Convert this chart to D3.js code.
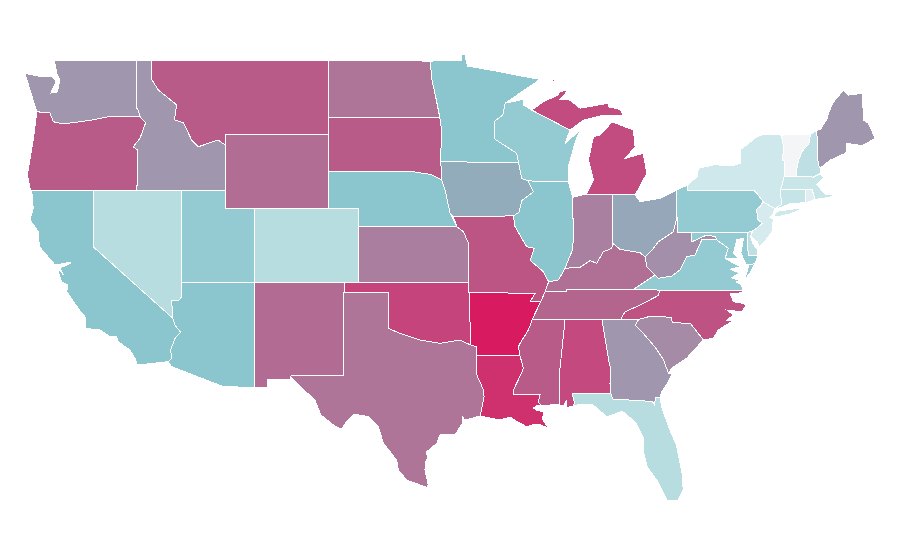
<!DOCTYPE html>
<html>
<head>
<meta charset="utf-8">
<title>States</title>
<script src="https://cdn.jsdelivr.net/npm/d3@7"></script>
<style>
html, body { margin: 0; background: #fff; }
svg { display: block; }
.state { stroke: #fff; stroke-width: 1; shape-rendering: crispEdges; }
</style>
</head>
<body>
<div id="map"></div>
<script>
const states = ["AL","AZ","AR","CA","CO","CT","DE","FL","GA","ID","IL","IN","IA","KS","KY","LA","ME","MD","MA","MI","MN","MS","MO","MT","NE","NV","NH","NJ","NM","NY","NC","ND","OH","OK","OR","PA","RI","SC","SD","TN","TX","UT","VT","VA","WA","WV","WI","WY"]
const stateValues = [88,35,100,35,25,19,22,25,55,55,35,65,44,66,72,95,55,33,18,87,35,80,83,80,35,25,22,12,74,15,84,70,46,90,80,33,8,60,80,76,70,33,0,33,55,58,33,73]

const colorStops = [0,15,25,35,45,55,70,80,90,100]
const colorRange = ["#f4f5f6","#cfe8ec","#b7dde0","#8bc6ce","#94a9b9","#a096ad","#ae7598","#b85b88","#c6447c","#d81b60"]

// state outlines, "degrees west, degrees north"; a | starts another part of the same state
const outlines = {
AL: "88.2 35 85.6 35 85.15 32.85 85 32.3 85.05 31.55 85 31 87.6 31 87.45 30.5 87.55 30.3 88 30.25 88 30.65 88.15 30.35 88.49 30.38 88.49 31.9 88.1 34.9",
AZ: "114.04 37 109.05 37 109.05 31.33 111.19 31.37 114.68 32.45 114.91 32.72 114.68 32.9 114.75 33.35 114.46 33.98 114.07 34.3 114.46 34.7 114.61 35.07 114.68 36.05 114.2 36.05 114 36.23",
AR: "94.58 36.45 90.11 36.42 90.46 35.96 89.73 35.96 90.17 35.24 90.3 35 90.57 34.43 91.13 33.71 91.24 33.53 91.13 33.03 94.05 33.03 94.05 33.53 94.46 33.62",
CA: "124.14 41.95 120 42 120 38.94 114.61 35.07 114.46 34.7 114.07 34.3 114.46 33.98 114.75 33.35 114.68 32.9 114.91 32.72 117 32.54 117.16 32.9 117.5 33.35 118.29 33.8 118.4 34.06 118.85 34.07 119.53 34.43 120.54 34.52 120.54 35.15 120.76 35.33 121.78 36.5 121.71 36.86 122.12 37.04 122.41 37.76 122 37.42 122.24 37.78 121.55 38.02 121.55 38.1 122.42 37.95 122.57 37.95 123.63 38.94 123.7 39.75 124.26 40.38 124.04 41",
CO: "109.05 41 102.05 41 102.05 37 109.05 37",
CT: "73.73 41.1 73.48 41.2 73.5 42.05 71.8 42.02 71.85 41.32 72.9 41.25 73.7 41",
DE: "75.79 39.69 75.4 39.8 75.55 39.5 75.4 39.1 75.1 38.8 75.05 38.45 75.7 38.46",
FL: "87.6 31 85 31 84.85 30.7 82.2 30.57 82.05 30.4 81.95 30.8 81.66 30.76 81.53 30.2 81 29.03 80.55 28.2 80.18 26.7 80.1 25.8 80.45 25.24 81.2 25.24 81.87 26.3 82.54 27.03 82.81 27.95 82.81 28.65 83.35 29.46 84.23 30.05 85.25 29.73 86.2 30.38 87.28 30.38 87.55 30.3 87.45 30.5",
GA: "85.6 35 83.11 35 83.35 34.7 82.75 34.2 82 33.5 81.45 32.85 81.1 32.1 80.87 32.03 81.2 31.5 81.55 31.1 81.66 30.76 81.95 30.8 82.05 30.4 82.2 30.57 84.85 30.7 85 31 85.05 31.55 85 32.3 85.15 32.85",
ID: "117.04 49 116.05 49 116.05 48 115.58 47.4 114.34 46.6 114.5 45.8 113.89 45.64 113.33 44.7 112.88 44.34 111.53 44.7 111.07 44.43 111.05 42 117.03 42 116.98 44.16 117.28 44.34 116.82 44.8 116.44 45.64 116.82 45.96 116.94 46.32 117.04 46.42",
IL: "90.58 42.49 87.86 42.45 87.57 41.6 87.53 39.35 87.59 38.76 88.09 37.77 88.53 37.14 89.2 37.04 89.55 37.58 90.45 38.2 90.17 38.85 90.68 38.93 91.47 40.02 91.58 40.6 91.02 41.42 90.23 41.9",
IN: "87.57 41.6 86.66 41.78 84.86 41.73 84.86 39.12 84.93 38.85 85.5 38.66 85.95 38.04 86.4 38.18 87.07 37.82 88.09 37.77 87.59 38.76 87.53 39.35",
IA: "96.49 43.53 91.24 43.48 91.02 42.63 90.58 42.49 90.23 41.9 91.02 41.42 91.2 40.8 91.58 40.6 95.64 40.56 95.86 40.74 96.2 42 96.42 42.54",
KS: "102.05 40.02 95.41 40.02 94.96 39.75 94.62 39.12 94.62 37 102.05 37",
KY: "89.44 36.5 89.2 37.04 88.53 37.14 88.09 37.77 87.07 37.82 86.4 38.18 85.95 38.04 85.5 38.66 84.93 38.85 84.86 39.12 84.37 38.79 83.02 38.61 82.68 38.39 82.56 37.85 82 37.41 83.47 36.63 88.02 36.63 88.02 36.5",
LA: "94.05 33.03 91.13 33.03 90.9 32.36 91.15 31.9 91.58 31.19 91.6 30.97 89.78 30.92 89.9 30.55 89.66 30.32 89.95 30.36 90.25 30.22 89.95 30.08 89.55 30.02 89.6 29.6 89.2 29.12 89.75 29.3 90.3 29.3 90.67 29.2 91.13 29.39 91.8 29.72 92.48 29.57 93.83 29.78 93.56 30.83 93.6 31.19 94.05 32",
ME: "71.07 45.24 70.85 45.25 70.4 45.8 70.25 46.2 70 46.7 69.27 47.4 68.93 47.13 68 47.22 67.9 45.78 67.58 45.6 67.12 44.79 68 44.4 69.04 44.52 69.1 44 70.2 43.6 70.85 43.17 70.98 43.4",
MD: "79.52 39.69 75.79 39.69 75.7 38.46 75.05 38.45 75.25 38.03 75.65 37.95 75.85 37.95 76.2 38.6 76.03 39.39 76.48 39.3 76.7 38.58 76.37 38.3 77.27 38.3 77.05 38.85 77.83 39.3 77.94 39.48 78.51 39.57 79.52 39.2",
MA: "73.5 42.05 73.27 42.75 72.46 42.73 71.3 42.7 70.85 42.88 70.6 42.65 71.05 42.3 70.7 41.95 70.5 41.78 70.05 41.78 70.25 42.05 69.95 41.8 70 41.65 70.65 41.55 71.12 41.5 71.2 41.5 71.38 42.02 71.8 42.02",
MI: "90.34 46.32 89.55 46.77 88.55 47.14 88.48 47.31 87.86 47.41 88.42 46.9 87.75 46.86 87.07 46.42 85.16 46.69 85.16 46.5 84.37 46.36 84.15 46.05 85.5 46.05 86.85 45.78 87.3 45.51 87.75 45.24|86.66 41.78 83.35 41.73 82.56 42.9 82.8 43.98 84.02 43.71 83.35 44.34 83.47 45.24 84.93 45.69 85.38 45.24 85.72 44.97 86.17 44.88 86.51 43.62 86.17 42.54|89.15 47.85 88.7 48.04 88.85 47.88",
MN: "97.2 48.97 95.07 49 95.07 49.3 94.85 49.3 94.69 48.7 92.48 48.39 91.02 48.16 89.78 47.98 92.14 46.69 92.3 46.05 92.89 45.69 92.82 44.74 91.35 43.98 91.24 43.48 96.49 43.53 96.45 45.3 96.56 45.94 96.8 46.9 97.1 48",
MS: "90.3 35 88.2 35 88.1 34.9 88.49 31.9 88.49 30.38 88.9 30.4 89.66 30.32 89.9 30.55 89.78 30.92 91.6 30.97 91.58 31.19 91.15 31.9 90.9 32.36 91.13 33.03 91.24 33.53 91.13 33.71 90.57 34.43",
MO: "95.64 40.56 91.58 40.6 91.47 40.02 90.68 38.93 90.17 38.85 90.45 38.2 89.55 37.58 89.2 37.04 89.44 36.5 89.73 35.96 90.46 35.96 90.11 36.42 94.58 36.45 94.62 37 94.62 39.12 94.96 39.75 95.41 40.02",
MT: "116.05 49 104.05 49 104.05 45 111.05 45 111.07 44.43 111.53 44.7 112.88 44.34 113.33 44.7 113.89 45.64 114.5 45.8 114.34 46.6 115.58 47.4 116.05 48",
NE: "104.05 43 98.5 43 97.2 42.85 96.42 42.54 96.2 42 95.86 40.74 95.41 40.02 102.05 40.02 102.05 41 104.05 41",
NV: "120 42 114.04 42 114 36.23 114.2 36.05 114.68 36.05 114.61 35.07 120 38.94",
NH: "71.5 45 71.07 45.24 70.98 43.4 70.85 43.17 70.85 42.88 71.3 42.7 72.46 42.73 72.45 43 72.3 43.6 72.05 44.1 71.6 44.5",
NJ: "74.7 41.36 73.92 41 74 40.7 74.25 40.5 74 40.45 74.1 39.75 74.4 39.4 74.95 38.93 75.1 39.2 75.55 39.5 75.4 39.8 75.1 39.95 74.75 40.2 75.05 40.4 75.15 40.95 74.9 41.1",
NM: "109.05 37 103 37 103.05 32 106.63 31.91 106.63 31.78 108.2 31.78 108.2 31.33 109.05 31.33",
NY: "79.8 42.27 79.17 42.72 79.07 43.17 78 43.37 76.8 43.3 76.26 43.44 76.26 44.16 75.13 44.88 74.7 45 73.48 44.97 73.3 44.3 73.4 43.6 73.25 43.55 73.27 42.75 73.5 42.05 73.48 41.2 73.73 41.1 73.9 40.92 74 40.7 73.92 41 74.7 41.36 75.05 41.75 75.35 42 79.8 42|74 40.6 73.75 40.85 72.6 40.98 72.1 41.01 71.87 41.07 72.8 40.72 73.6 40.58",
NC: "84.33 35 83.11 35 82.45 35.15 80.87 35.13 80.85 34.82 79.63 34.8 78.74 33.9 78.06 33.98 77.74 34.43 76.7 34.95 77.15 34.97 76.7 35.24 77.15 35.51 76.14 35.42 75.85 35.78 76 35.87 76.7 35.96 76.93 36.38 76.1 36.45 76.1 36.55 81.68 36.59 81.78 36.3 83.02 35.78 84.03 35.42",
ND: "104.05 49 97.2 48.97 97.1 48 96.8 46.9 96.56 45.94 104.05 45.94",
OH: "84.86 41.73 83.35 41.73 83.02 41.37 81.66 41.55 80.54 42 80.52 40.56 80.76 39.75 81.78 39.2 82.2 38.76 82.68 38.39 83.02 38.61 84.37 38.79 84.86 39.12",
OK: "103 37 94.62 37 94.58 36.45 94.46 33.62 95.2 33.89 96.54 33.71 97.9 33.89 99.24 34.25 100.03 34.52 100.03 36.45 103 36.45",
OR: "123.8 46.23 122.9 46.16 122.69 45.69 122 45.57 120.09 45.78 118.97 45.96 116.82 45.96 116.44 45.64 116.82 44.8 117.28 44.34 116.98 44.16 117.03 42 124.2 42 124.26 42.1 124.44 42.81 124.04 44.7",
PA: "80.54 42 79.8 42.27 79.8 42 75.35 42 75.05 41.75 74.7 41.36 74.9 41.1 75.15 40.95 75.05 40.4 74.75 40.2 75.1 39.95 75.4 39.8 75.79 39.69 80.52 39.69",
RI: "71.8 42.02 71.38 42.02 71.2 41.5 71.5 41.37 71.85 41.32",
SC: "83.11 35 82.45 35.15 80.87 35.13 80.85 34.82 79.63 34.8 78.74 33.9 79.85 32.92 80.87 32.37 81.1 32.1 81.45 32.85 82 33.5 82.75 34.2 83.35 34.7",
SD: "104.05 45.94 96.56 45.94 96.45 45.3 96.49 43.53 96.42 42.54 97.2 42.85 98.5 43 104.05 43",
TN: "90.3 35 90.17 35.24 89.73 35.96 89.44 36.5 88.02 36.5 88.02 36.63 83.47 36.63 81.68 36.59 81.78 36.3 83.02 35.78 84.03 35.42 84.33 35",
TX: "103.05 36.45 100.03 36.45 100.03 34.52 99.24 34.25 97.9 33.89 96.54 33.71 95.2 33.89 94.46 33.62 94.05 33.53 94.05 32 93.6 31.19 93.56 30.83 93.83 29.78 94.85 29.57 95 29.72 95.02 29.4 95.53 28.76 96.54 28.76 96.76 28.31 97.44 27.85 97.4 27.5 97.52 27.3 97.56 26.86 97.33 26.05 97.44 25.93 98.79 26.32 99.36 26.86 99.47 27.4 100.37 28.31 100.71 29.2 101.38 29.75 102.35 29.88 102.85 29.48 103.2 29.06 103.75 29.3 104.6 29.84 105 30.65 106.23 31.55 106.63 31.91 106.6 32 103.05 32",
UT: "114.04 42 111.05 42 111.05 41 109.05 41 109.05 37 114.04 37",
VT: "73.48 44.97 71.5 45 71.6 44.5 72.05 44.1 72.3 43.6 72.45 43 72.46 42.73 73.27 42.75 73.25 43.55 73.4 43.6 73.3 44.3",
VA: "83.47 36.63 81.68 36.59 76.1 36.55 76.14 36.86 76.5 37.02 76.3 37.12 76.85 37.25 76.3 37.5 76.9 37.72 76.25 37.85 77.27 38.3 77.05 38.85 77.83 39.3 78.2 39.35 78.85 39.3 79.3 38.49 79.86 38.39 80.31 37.68 80.87 37.35 81.78 37.23 82 37.41|75.95 37.15 75.65 37.95 75.25 38.03 75.6 37.5",
WA: "117.04 49 122.62 49 122.45 48.32 122.25 47.95 122.4 47.3 122.85 47.24 122.5 47.85 122.75 48.14 123.47 48.12 124.6 48.3 124.15 47.13 123.8 46.23 122.9 46.16 122.69 45.69 122 45.57 120.09 45.78 118.97 45.96 116.82 45.96 116.94 46.32 117.04 46.42",
WV: "80.52 40.56 80.52 39.69 79.52 39.69 79.52 39.2 78.51 39.57 77.94 39.48 77.83 39.3 78.2 39.35 78.85 39.3 79.3 38.49 79.86 38.39 80.31 37.68 80.87 37.35 81.78 37.23 82 37.41 82.56 37.85 82.68 38.39 82.2 38.76 81.78 39.2 80.76 39.75",
WI: "92.14 46.69 90.9 46.9 90.9 46.6 90.34 46.32 87.75 45.24 88.09 44.52 87.07 45.24 87.4 44.6 87.86 43.26 87.86 42.45 90.58 42.49 91.02 42.63 91.24 43.48 91.35 43.98 92.82 44.74 92.89 45.69 92.3 46.05",
WY: "111.05 45 104.05 45 104.05 41 111.05 41"
}

const width = 900
const height = 560

const x = d3.scaleLinear().domain([-120, -67]).range([93, 877])
const y = d3.scaleLinear().domain([42, 25]).range([190, 504.5])
const color = d3.scaleLinear().domain(colorStops).range(colorRange)

// turn one outline string into a GeoJSON feature
function toFeature(code) {
    const parts = outlines[code].split("|").map(part => {
        const nums = part.trim().split(" ").map(Number)
        const ring = d3.range(0, nums.length, 2).map(i => [-nums[i], nums[i + 1]])
        ring.push(ring[0])
        return [ring]
    })
    return { type: "Feature", id: code, geometry: { type: "MultiPolygon", coordinates: parts } }
}

const projection = d3.geoTransform({
    point(lon, lat) { this.stream.point(x(lon), y(lat)) }
})
const path = d3.geoPath(projection)

const svg = d3.select("#map")
    .append("svg")
    .attr("width", width)
    .attr("height", height)

svg.selectAll("path")
    .data(states)
    .join("path")
    .attr("class", "state")
    .attr("d", d => path(toFeature(d)))
    .attr("fill", (d, i) => color(stateValues[i]))
</script>
</body>
</html>
